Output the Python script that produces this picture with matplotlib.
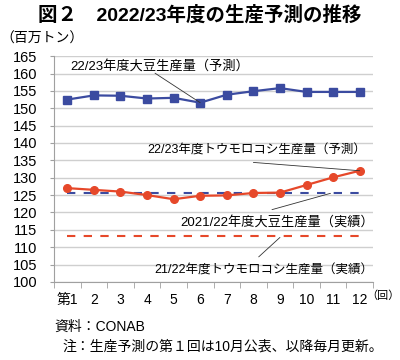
import numpy as np
import matplotlib
matplotlib.use("Agg")
from matplotlib import pyplot as plt

plt.rcParams['font.family'] = ['Liberation Sans', 'Noto Sans CJK JP', 'DejaVu Sans']

# データ
rounds = ['第1', '2', '3', '4', '5', '6', '7', '8', '9', '10', '11', '12']
soy_forecast = [152.5, 153.7, 153.6, 152.8, 153.0, 151.6, 153.9, 154.9, 155.8, 154.7, 154.7, 154.7]
corn_forecast = [127.0, 126.5, 126.0, 125.0, 123.8, 124.8, 124.9, 125.6, 125.7, 127.9, 130.1, 132.0]
soy_prev = 125.5
corn_prev = 113.1

blue = '#3B4BA0'
red = '#E6482A'

fig = plt.figure(figsize=(4, 3.6), dpi=100)
ax = fig.add_axes([0.135, 0.217, 0.7975, 0.627])

x = np.arange(len(rounds))

ax.plot(x, [soy_prev] * len(x), color=blue, lw=1.5, dashes=(4, 4), zorder=2)
ax.plot(x, [corn_prev] * len(x), color=red, lw=1.5, dashes=(4, 4), zorder=2)
ax.plot(x, soy_forecast, color=blue, lw=1.6, marker='s', ms=5.5, zorder=3)
ax.plot(x, corn_forecast, color=red, lw=1.6, marker='o', ms=5.5, zorder=3)

ax.set_xlim(-0.5, len(x) - 0.5)
ax.set_ylim(100, 165)
ax.set_yticks(np.arange(100, 166, 5))
ax.set_xticks(x)
ax.set_xticklabels(rounds)
ax.set_xticks(np.arange(-0.5, len(x), 1), minor=True)
ax.tick_params(axis='x', which='major', length=0, labelsize=10, pad=8)
ax.tick_params(axis='x', which='minor', length=4, color='#A0A0A0')
ax.tick_params(axis='y', length=3, color='#A0A0A0', labelsize=10.5, pad=9)
ax.yaxis.grid(True, color='#CFCFCF', lw=1)
ax.set_axisbelow(True)
for s in ['top', 'right']:
    ax.spines[s].set_visible(False)
for s in ['left', 'bottom']:
    ax.spines[s].set_color('#A0A0A0')

# 注釈
lead = dict(arrowstyle='-', color='#333333', lw=0.6, shrinkA=0, shrinkB=0)
ax.text(0.1, 162.2, '22/23年度大豆生産量（予測）', fontsize=9.5, ha='left', va='center')
ax.annotate('', xy=(x[5], soy_forecast[5]), xytext=(3.3, 160.1), arrowprops=lead)
ax.text(3.0, 137.8, '22/23年度トウモロコシ生産量（予測）', fontsize=9, ha='left', va='center')
ax.annotate('', xy=(x[11], corn_forecast[11]), xytext=(7.0, 134.4), arrowprops=lead)
ax.text(4.24, 117.1, '2021/22年度大豆生産量（実績）', fontsize=9.5, ha='left', va='center')
ax.annotate('', xy=(x[10] - 0.1, soy_prev), xytext=(7.7, 120.8), arrowprops=lead)
ax.text(3.26, 103.2, '21/22年度トウモロコシ生産量（実績）', fontsize=9, ha='left', va='center')
ax.annotate('', xy=(8.0, corn_prev - 0.3), xytext=(7.2, 107.2), arrowprops=lead)

# テキスト
fig.text(0.5, 0.958, '図２　2022/23年度の生産予測の推移', ha='center', va='center',
         fontsize=14, fontweight='bold')
fig.text(0.0, 0.893, '（百万トン）', ha='left', va='center', fontsize=10)
fig.text(1.0, 0.178, '（回）', ha='right', va='center', fontsize=8)
fig.text(0.137, 0.092, '資料：CONAB', ha='left', va='center', fontsize=10)
fig.text(0.157, 0.036, '注：生産予測の第１回は10月公表、以降毎月更新。', ha='left', va='center',
         fontsize=10)

fig.savefig('out.png', dpi=100)
